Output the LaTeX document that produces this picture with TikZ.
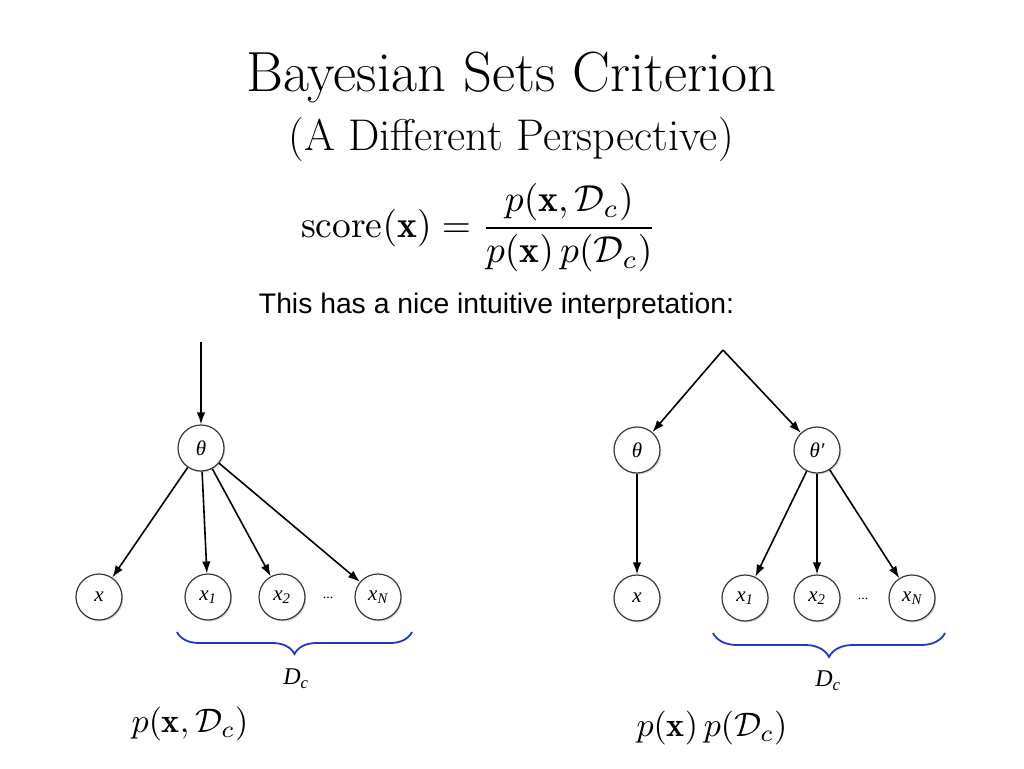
\documentclass[tikz,border=0pt]{standalone}
\usepackage{fontspec}
\newfontfamily\arialfont{Liberation Sans}
\newfontfamily\tmsfont{Liberation Serif}
\usetikzlibrary{arrows.meta,decorations.pathreplacing,shadows}
\definecolor{bracecol}{RGB}{35,55,195}
\newcommand{\mbig}[2]{\scalebox{#1}{$#2$}}
\newcommand{\sub}[1]{\textsubscript{#1}}
\tikzset{
  bnode/.style={circle, draw=black!78, line width=1.2pt, fill=white,
    minimum size=46pt, inner sep=0pt,
    font=\tmsfont\itshape\fontsize{21}{24}\selectfont,
    drop shadow={shadow xshift=1.2pt, shadow yshift=-1.5pt, opacity=0.3}},
  arr/.style={-{Latex[length=12pt,width=8.5pt]}, line width=1.6pt, black},
  brc/.style={decorate, decoration={brace, mirror, amplitude=22pt}, draw=bracecol, line width=1.8pt},
  dotlbl/.style={inner sep=0pt, font=\tmsfont\fontsize{14}{16}\selectfont},
  dclbl/.style={inner sep=0pt, font=\tmsfont\itshape\fontsize{24}{28}\selectfont},
  pform/.style={inner sep=0pt}
}
\begin{document}
\begin{tikzpicture}[x=1pt,y=-1pt]
\useasboundingbox (0,0) rectangle (1024,768);
\fill[white] (0,0) rectangle (1024,768);

% titles
\node[anchor=base, inner sep=0pt, font=\fontsize{56.6}{66}\selectfont] (title) at (511.5,91) {Bayesian Sets Criterion};
\node[anchor=base, inner sep=0pt, font=\fontsize{44.4}{52}\selectfont] (subt) at (511,150) {(A Different Perspective)};
\node[inner sep=0pt] (score) at (479,228)
  {\mbig{3.75}{\displaystyle \mathrm{score}(\mathbf{x}) = \frac{p(\mathbf{x},\mathcal{D}_c)}{p(\mathbf{x})\,p(\mathcal{D}_c)}}};
\node[anchor=base, inner sep=0pt, font=\arialfont\fontsize{28.3}{34}\selectfont] (intro) at (496.5,313) {This has a nice intuitive interpretation:};

% left diagram
\coordinate (top1) at (201,342);
\node[bnode] (th1) at (201,448) {θ};
\node[bnode] (xa) at (99,597) {x};
\node[bnode] (xa1) at (208,597) {x\sub{1}};
\node[bnode] (xa2) at (282,597) {x\sub{2}};
\node[bnode] (xaN) at (378,597) {x\sub{N}};
\node[dotlbl] (dotsa) at (328,598) {...};
\draw[arr] (top1) -- (th1);
\draw[arr] (th1) -- (xa);
\draw[arr] (th1) -- (xa1);
\draw[arr] (th1) -- (xa2);
\draw[arr] (th1) -- (xaN);
\coordinate (bla) at (177,632);
\coordinate (bra) at (412,632);
\draw[brc] (bla) -- (bra);
\node[dclbl] (dca) at (296,679) {D\sub{c}};
\node[pform] (pa) at (190,724) {\mbig{3.4}{p(\mathbf{x},\mathcal{D}_c)}};

% right diagram
\coordinate (apex) at (723,350);
\node[bnode] (th2) at (637,450) {θ};
\node[bnode] (th2p) at (817,450) {θ′};
\node[bnode] (xb) at (637,598) {x};
\node[bnode] (xb1) at (745,598) {x\sub{1}};
\node[bnode] (xb2) at (817,598) {x\sub{2}};
\node[bnode] (xbN) at (912,598) {x\sub{N}};
\node[dotlbl] (dotsb) at (863,599) {...};
\draw[arr] (apex) -- (th2);
\draw[arr] (apex) -- (th2p);
\draw[arr] (th2) -- (xb);
\draw[arr] (th2p) -- (xb1);
\draw[arr] (th2p) -- (xb2);
\draw[arr] (th2p) -- (xbN);
\coordinate (blb) at (713,633);
\coordinate (brb) at (945,633);
\draw[brc, decoration={amplitude=24pt}] (blb) -- (brb);
\node[dclbl] (dcb) at (828,681) {D\sub{c}};
\node[pform] (pb) at (712,728) {\mbig{3.4}{p(\mathbf{x})\,p(\mathcal{D}_c)}};
\end{tikzpicture}
\end{document}
